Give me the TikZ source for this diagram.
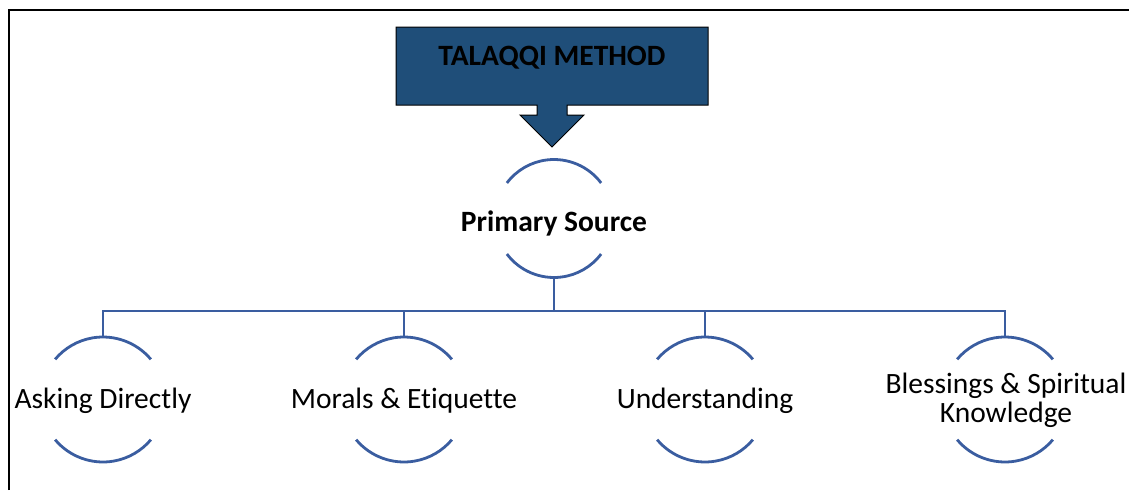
\documentclass[tikz,border=0pt]{standalone}
\usepackage{fontspec}
\setmainfont[Ligatures=NoCommon]{Carlito}
\definecolor{boxblue}{HTML}{1F4E79}
\definecolor{arcblue}{HTML}{3A5DA0}
\begin{document}
\begin{tikzpicture}[x=1pt,y=-1pt,
  ring/.style={circle,minimum size=#1,inner sep=0pt,outer sep=0pt,draw=none},
  arcline/.style={draw=arcblue,line width=2.8pt},
  conn/.style={draw=arcblue,line width=2.8pt},
  lbl/.style={font=\fontsize{29.5}{29}\selectfont,align=center,inner sep=0pt},
  blbl/.style={font=\bfseries\fontsize{29.5}{29}\selectfont,align=center,inner sep=0pt}]
\useasboundingbox (0,0) rectangle (1129,490);
% frame
\coordinate (f1) at (9,490);
\coordinate (f2) at (9,10);
\coordinate (f3) at (1129,10);
\draw[black,line width=1.5pt] (f1) -- (f2) -- (f3);
% top callout
\draw[fill=boxblue,draw=black,line width=1pt]
  (396,27) -- (708,27) -- (708,105) -- (567,105) -- (567,115) -- (584,115)
  -- (552,147) -- (520,115) -- (537,115) -- (537,105) -- (396,105) -- cycle;
\node[blbl] (top) at (552,58) {TALAQQI METHOD};
% primary
\node[ring=118pt] (p) at (554,218.5) {};
\node[blbl] (pt) at (554,223) {Primary Source};
\draw[arcline] (p.37) arc[start angle=37,end angle=143,radius=59pt];
\draw[arcline] (p.217) arc[start angle=217,end angle=323,radius=59pt];
% children
\foreach \n/\x in {a/103,b/404,c/705,d/1005}{
  \node[ring=125pt] (\n) at (\x,399.5) {};
  \draw[arcline] (\n.40) arc[start angle=40,end angle=140,radius=62.5pt];
  \draw[arcline] (\n.220) arc[start angle=220,end angle=320,radius=62.5pt];
}
\node[lbl] (at) at (103,401) {Asking Directly};
\node[lbl] (bt) at (404,401) {Morals \& Etiquette};
\node[lbl] (ct) at (705,401) {Understanding};
\node[lbl] (dt) at (1006,400.5) {Blessings \& Spiritual\\Knowledge};
% connectors
\coordinate (h) at (554,311);
\draw[conn] (p.south) -- (h);
\draw[conn] (a.north) |- (h) -| (d.north);
\draw[conn] (b.north) -- (b.north |- h);
\draw[conn] (c.north) -- (c.north |- h);
\end{tikzpicture}
\end{document}
